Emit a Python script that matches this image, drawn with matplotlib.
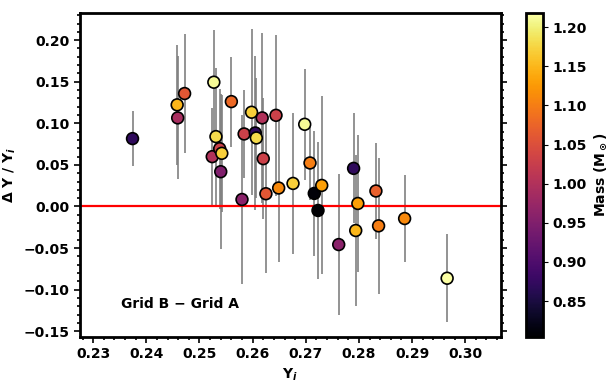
import matplotlib
matplotlib.use('Agg')
import matplotlib.pyplot as plt
from matplotlib.ticker import MultipleLocator

# initial helium Y_i, relative difference and its error, stellar mass
y_init = [0.2374, 0.2458, 0.2459, 0.2472, 0.2524, 0.2527, 0.2531, 0.2538, 0.2542,
          0.2540, 0.2560, 0.2580, 0.2584, 0.2598, 0.2605, 0.2607, 0.2618, 0.2620,
          0.2625, 0.2644, 0.2649, 0.2676, 0.2698, 0.2708, 0.2716, 0.2723, 0.2730,
          0.2762, 0.2790, 0.2798, 0.2794, 0.2832, 0.2837, 0.2886, 0.2966]
dy_rel = [0.0816, 0.1222, 0.1065, 0.1358, 0.0599, 0.1494, 0.0840, 0.0695, 0.0639,
          0.0418, 0.1261, 0.0084, 0.0872, 0.1133, 0.0884, 0.0824, 0.1065, 0.0575,
          0.0153, 0.1096, 0.0222, 0.0277, 0.0988, 0.0523, 0.0157, -0.0048, 0.0253,
          -0.0458, 0.0458, 0.0036, -0.0289, 0.0186, -0.0233, -0.0145, -0.0863]
dy_err = [0.033, 0.072, 0.074, 0.072, 0.059, 0.063, 0.082, 0.072, 0.070,
          0.093, 0.054, 0.102, 0.053, 0.100, 0.093, 0.072, 0.102, 0.073,
          0.095, 0.097, 0.089, 0.085, 0.067, 0.045, 0.075, 0.082, 0.107,
          0.085, 0.066, 0.082, 0.091, 0.058, 0.082, 0.052, 0.053]
mass = [0.87, 1.15, 0.99, 1.06, 1.00, 1.21, 1.18, 1.03, 1.17,
        0.95, 1.08, 0.96, 1.03, 1.17, 0.87, 1.18, 1.00, 1.03,
        1.06, 1.03, 1.11, 1.17, 1.21, 1.10, 0.81, 0.804, 1.13,
        0.96, 0.87, 1.13, 1.15, 1.07, 1.10, 1.11, 1.218]

plt.rcParams['font.weight'] = 'bold'
plt.rcParams['axes.labelweight'] = 'bold'
plt.rcParams['font.size'] = 10

fig = plt.figure(figsize=(6.1, 3.83), dpi=100)
ax = fig.add_axes([0.131, 0.120, 0.690, 0.846])
cax = fig.add_axes([0.862, 0.120, 0.028, 0.846])

ax.errorbar(y_init, dy_rel, yerr=dy_err, fmt='none', ecolor='gray', elinewidth=1.2, zorder=1)
ax.axhline(0, color='red', lw=1.6, zorder=2)
sc = ax.scatter(y_init, dy_rel, c=mass, cmap='inferno', vmin=0.804, vmax=1.218,
                s=72, edgecolors='black', linewidths=1.2, zorder=3)

ax.set_xlim(0.2275, 0.3067)
ax.set_ylim(-0.157, 0.2326)
ax.xaxis.set_major_locator(MultipleLocator(0.01))
ax.xaxis.set_minor_locator(MultipleLocator(0.002))
ax.yaxis.set_major_locator(MultipleLocator(0.05))
ax.yaxis.set_minor_locator(MultipleLocator(0.01))
ax.tick_params(which='both', right=True, width=1.2)
ax.tick_params(which='major', length=4)
ax.tick_params(which='minor', length=2.5)
for sp in ax.spines.values():
    sp.set_linewidth(2)

ax.set_xlabel(r'$\mathbf{Y}_{\mathbfit{i}}$')
ax.set_ylabel(r'$\mathbf{\Delta\ Y\ /\ Y}_{\mathbfit{i}}$')
ax.text(0.097, 0.09, 'Grid B \u2212 Grid A', transform=ax.transAxes,
        fontsize=10, fontweight='bold')

cb = fig.colorbar(sc, cax=cax)
cb.set_label(r'Mass (M$_\odot$)', fontweight='bold')
cb.outline.set_linewidth(2)

plt.savefig('out.png', dpi=100)
